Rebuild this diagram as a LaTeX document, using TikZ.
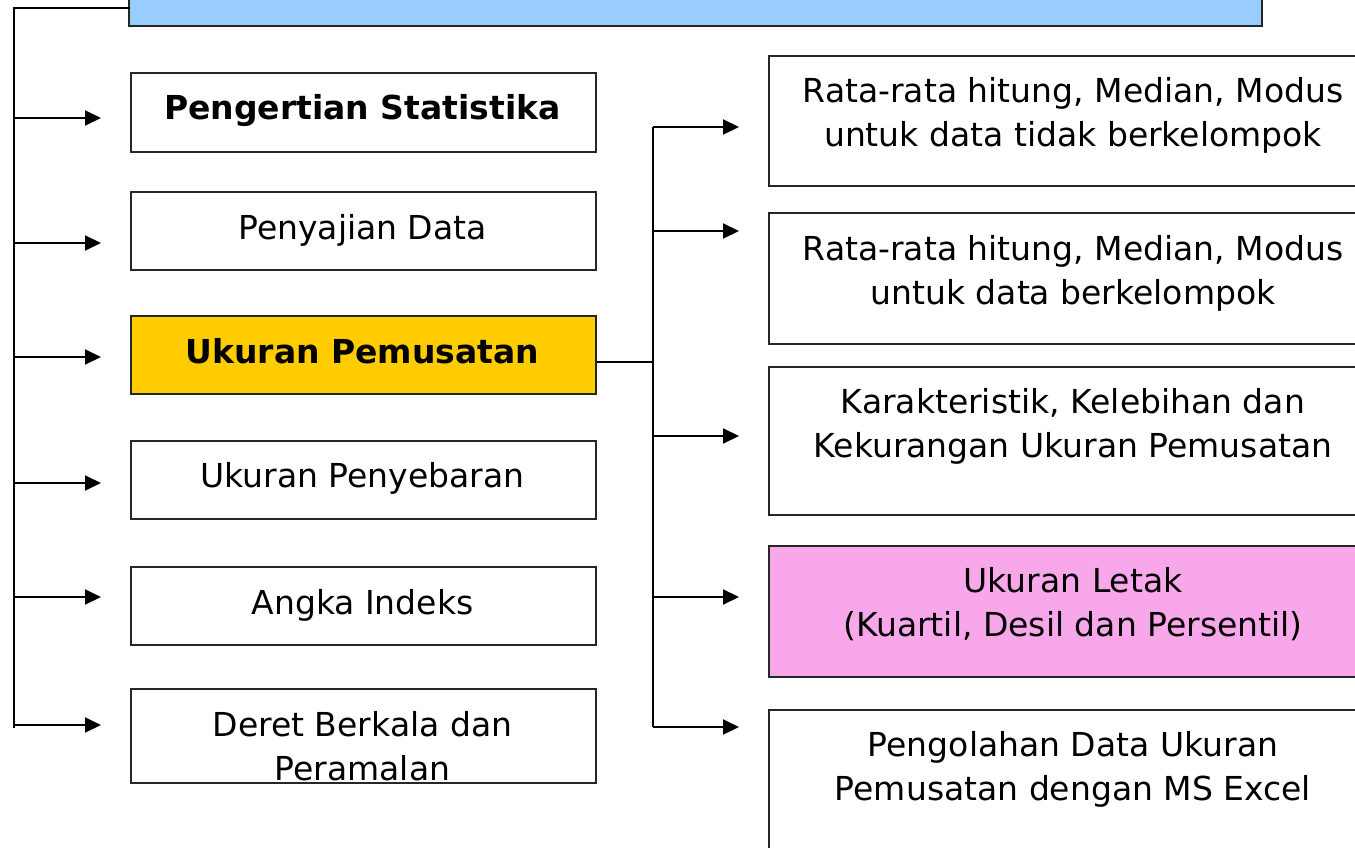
\documentclass[tikz,border=0pt]{standalone}
\usepackage{fontspec}
\setmainfont{DejaVu Sans}
\usetikzlibrary{arrows.meta}
\definecolor{topblue}{HTML}{99CCFF}
\definecolor{goldbox}{HTML}{FFCC00}
\definecolor{pinkbox}{HTML}{F8A8EA}
\begin{document}
\begin{tikzpicture}[x=1pt,y=-1pt,
  box/.style={draw=black!85, line width=1.9pt, inner sep=0pt, anchor=north west},
  lbl/.style={anchor=base, inner sep=0pt, font=\fontsize{33}{44}\selectfont},
  conn/.style={line width=2pt},
  arr/.style={line width=2pt, -{Triangle[length=16pt,width=15pt]}, shorten >=29pt}]
\useasboundingbox (0,0) rectangle (1355,848);
\clip (0,0) rectangle (1355,848);
\fill[white] (0,0) rectangle (1355,848);

% top box (cut off at the top edge)
\node[box, fill=topblue, minimum width=1133pt, minimum height=65pt] (top) at (128,-40) {};

% left boxes
\node[box, minimum width=465pt, minimum height=79pt] (L1) at (130,72) {};
\node[box, minimum width=465pt, minimum height=78pt] (L2) at (130,191) {};
\node[box, fill=goldbox, minimum width=465pt, minimum height=78pt] (L3) at (130,315) {};
\node[box, minimum width=465pt, minimum height=78pt] (L4) at (130,440) {};
\node[box, minimum width=465pt, minimum height=78pt] (L5) at (130,566) {};
\node[box, minimum width=465pt, minimum height=94pt] (L6) at (130,688) {};

% right boxes
\node[box, minimum width=610pt, minimum height=130pt] (R1) at (768,55) {};
\node[box, minimum width=610pt, minimum height=131pt] (R2) at (768,212) {};
\node[box, minimum width=610pt, minimum height=148pt] (R3) at (768,366) {};
\node[box, fill=pinkbox, minimum width=610pt, minimum height=131pt] (R4) at (768,545) {};
\node[box, minimum width=610pt, minimum height=200pt] (R5) at (768,709) {};

% left texts
\node[lbl] (tL1) at (362.5,120) {\bfseries Pengertian Statistika};
\node[lbl] (tL2) at (362.5,239) {Penyajian Data};
\node[lbl] (tL3) at (362.5,363) {\bfseries Ukuran Pemusatan};
\node[lbl] (tL4) at (362.5,487) {Ukuran Penyebaran};
\node[lbl] (tL5) at (362.5,614) {Angka Indeks};
\node[lbl] (tL6a) at (362.5,736) {Deret Berkala dan};
\node[lbl] (tL6b) at (362.5,780) {Peramalan};

% right texts
\node[lbl] (tR1a) at (1073,103) {Rata-rata hitung, Median, Modus};
\node[lbl] (tR1b) at (1073,147) {untuk data tidak berkelompok};
\node[lbl] (tR2a) at (1073,260) {Rata-rata hitung, Median, Modus};
\node[lbl] (tR2b) at (1073,304) {untuk data berkelompok};
\node[lbl] (tR3a) at (1073,413) {Karakteristik, Kelebihan dan};
\node[lbl] (tR3b) at (1073,457) {Kekurangan Ukuran Pemusatan};
\node[lbl] (tR4a) at (1073,592) {Ukuran Letak};
\node[lbl] (tR4b) at (1073,636) {(Kuartil, Desil dan Persentil)};
\node[lbl] (tR5a) at (1073,756) {Pengolahan Data Ukuran};
\node[lbl] (tR5b) at (1073,800) {Pemusatan dengan MS Excel};

% left spine
\coordinate (lt) at (14,8);
\coordinate (lb) at (14,728);
\coordinate (s1) at (14,118);
\coordinate (s2) at (14,243);
\coordinate (s3) at (14,357);
\coordinate (s4) at (14,483);
\coordinate (s5) at (14,597);
\coordinate (s6) at (14,725);
\draw[conn] ([xshift=2pt]top.west |- lt) -- (lt) -- (lb);
\foreach \i in {1,...,6} {\draw[arr] (s\i) -- (s\i -| L\i.west);}

% right spine
\coordinate (hub) at (653,362);
\coordinate (r1) at (653,127);
\coordinate (r2) at (653,231);
\coordinate (r3) at (653,436);
\coordinate (r4) at (653,597);
\coordinate (r5) at (653,727);
\draw[conn] (hub -| L3.east) -- (hub);
\draw[conn] (r1) -- (r5);
\foreach \i in {1,...,5} {\draw[arr] (r\i) -- (r\i -| R\i.west);}
\end{tikzpicture}
\end{document}
